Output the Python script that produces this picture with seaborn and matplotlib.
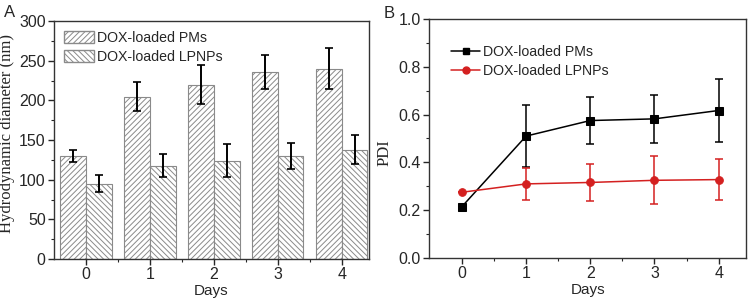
import numpy as np
import pandas as pd
import seaborn as sns
import matplotlib.pyplot as plt
from matplotlib.patches import Patch
from matplotlib.lines import Line2D

sns.set_theme(style="ticks")
plt.rcParams["font.family"] = ["Liberation Sans", "DejaVu Sans"]
plt.rcParams["hatch.color"] = "#8a8a8a"
plt.rcParams["hatch.linewidth"] = 0.7

days = [0, 1, 2, 3, 4]
series = ["DOX-loaded PMs", "DOX-loaded LPNPs"]

# panel A: hydrodynamic diameter (nm)
size_pms = [130, 205, 220, 236, 240]
size_pms_err = [7, 18, 25, 22, 26]
size_lpnps = [95, 118, 124, 130, 138]
size_lpnps_err = [11, 15, 21, 17, 18]

# panel B: PDI
pdi_pms = [0.215, 0.51, 0.575, 0.582, 0.617]
pdi_pms_err = [0.0, 0.13, 0.10, 0.10, 0.133]
pdi_lpnps = [0.275, 0.31, 0.316, 0.325, 0.328]
pdi_lpnps_err = [0.0, 0.068, 0.078, 0.10, 0.087]

df_size = pd.DataFrame({
    "Days": [str(d) for d in days] * 2,
    "size": size_pms + size_lpnps,
    "group": [series[0]] * 5 + [series[1]] * 5,
})
df_pdi = pd.DataFrame({
    "Days": days * 2,
    "PDI": pdi_pms + pdi_lpnps,
    "group": [series[0]] * 5 + [series[1]] * 5,
})

fig = plt.figure(figsize=(7.53, 3.03), dpi=100)
ax1 = fig.add_axes([0.0717, 0.145, 0.418, 0.785])
ax2 = fig.add_axes([0.570, 0.1485, 0.421, 0.789])

tick_fs = 11.5
serif = ["Liberation Serif", "DejaVu Serif"]

# ---- panel A ----
sns.barplot(data=df_size, x="Days", y="size", hue="group", ax=ax1,
            palette=["white", "white"], edgecolor="#8a8a8a", linewidth=0.8,
            width=0.8, gap=0, errorbar=None, legend=False)
hatches = ["//////", "\\\\\\\\\\\\"]
errs = [size_pms_err, size_lpnps_err]
vals = [size_pms, size_lpnps]
bar_sets = list(ax1.containers)[:2]
for k, cont in enumerate(bar_sets):
    xs = []
    for bar in cont.patches:
        bar.set_hatch(hatches[k])
        xs.append(bar.get_x() + bar.get_width() / 2)
    ax1.errorbar(xs, vals[k], yerr=errs[k], fmt="none", ecolor="black",
                 elinewidth=1.4, capsize=3, capthick=1.2, zorder=5)
ax1.set_ylim(0, 300)
ax1.set_xlim(-0.5, 4.42)
ax1.set_yticks([0, 50, 100, 150, 200, 250, 300])
ax1.set_yticks(np.arange(25, 300, 50), minor=True)
ax1.set_xticks([0.5, 1.5, 2.5, 3.5], minor=True)
ax1.set_xlabel("Days", fontsize=11, labelpad=1)
ax1.set_ylabel("Hydrodynamic diameter (nm)", fontsize=12, family=serif)
ax1.yaxis.set_label_coords(-0.125, 0.53)
handles = [Patch(facecolor="white", edgecolor="#8a8a8a", hatch=h, label=s)
           for h, s in zip(hatches, series)]
ax1.legend(handles=handles, loc="upper left", frameon=False, fontsize=10.2,
           handlelength=2.1, handleheight=0.9, handletextpad=0.25,
           labelspacing=0.35, borderaxespad=0.3, bbox_to_anchor=(0.0, 1.0))
fig.text(10 / 753, 1 - 12.5 / 303, "A", fontsize=12, ha="center", va="center")

# ---- panel B ----
colors = ["black", "#d42020"]
markers = ["s", "o"]
sns.lineplot(data=df_pdi, x="Days", y="PDI", hue="group", style="group",
             palette=colors, markers=markers, dashes=False, ax=ax2,
             markersize=5.5, markeredgecolor=None, linewidth=1.1, legend=False)
for k, (v, e) in enumerate([(pdi_pms, pdi_pms_err), (pdi_lpnps, pdi_lpnps_err)]):
    ax2.errorbar(days, v, yerr=e, fmt="none", ecolor=colors[k],
                 elinewidth=1.1, capsize=3, capthick=1.1)
ax2.set_ylim(0, 1.0)
ax2.set_xlim(-0.51, 4.43)
ax2.set_xticks(days)
ax2.set_xticks([0.5, 1.5, 2.5, 3.5], minor=True)
ax2.set_yticks([0.0, 0.2, 0.4, 0.6, 0.8, 1.0])
ax2.set_yticks(np.arange(0.1, 1.0, 0.2), minor=True)
ax2.set_xlabel("Days", fontsize=11, labelpad=1)
ax2.set_ylabel("PDI", fontsize=12, family=serif)
ax2.yaxis.set_label_coords(-0.115, 0.44)
lh = [Line2D([], [], color=c, marker=m, markersize=5, linewidth=1.1, label=s)
      for c, m, s in zip(colors, markers, series)]
ax2.legend(handles=lh, loc="upper left", frameon=False, fontsize=10.2,
           handlelength=2.0, handletextpad=0.2, labelspacing=0.35,
           bbox_to_anchor=(0.03, 0.945))
fig.text(389 / 753, 1 - 13 / 303, "B", fontsize=12, ha="center", va="center")

for ax in (ax1, ax2):
    for sp in ax.spines.values():
        sp.set_visible(True)
        sp.set_color("#333333")
        sp.set_linewidth(1.0)
    ax.tick_params(which="major", direction="out", length=4, width=1,
                   labelsize=tick_fs, pad=2)
    ax.tick_params(which="minor", direction="out", length=2, width=0.8)

fig.savefig("out.png", dpi=100)
